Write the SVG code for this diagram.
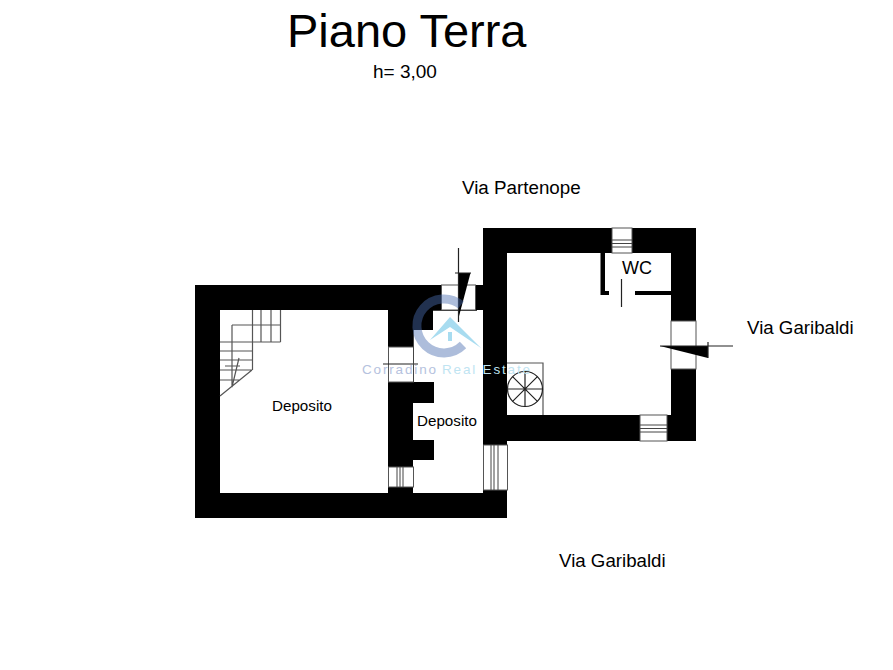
<svg xmlns="http://www.w3.org/2000/svg" width="893" height="670" viewBox="0 0 893 670">
<style>
text{font-family:"Liberation Sans",Arial,sans-serif;fill:#000}
.w{fill:#000}
.o{fill:#fff;stroke:#555;stroke-width:1}
.l{fill:none;stroke:#444;stroke-width:1}
.t{fill:none;stroke:#555;stroke-width:1.2}
.f{fill:none;stroke:#222;stroke-width:1.2}
</style>
<rect width="893" height="670" fill="#fff"/>
<g id="walls">
<path class="w" d="M195 285H442V310H220V493H388V487H413V493H483V490H507V518H195Z"/>
<path class="w" d="M475 285H483V228H696V441H507V445H483V310H475ZM507 253V415H671V253Z"/>
<path class="w" d="M388 310H433V330H413V347H388ZM388 382H434V403H413V440H434V460H413V467H388Z"/>
<path class="w" d="M600.500 253H605V291H609V295H600.500ZM635 291H671V295H635Z"/>
</g>
<g id="windows">
<rect class="o" x="441.500" y="285" width="34" height="25"/>
<path class="l" d="M433 310.500H477"/>
<rect class="o" x="388.500" y="347" width="25" height="35"/>
<path class="f" d="M383 364H418"/>
<path class="l" d="M413.500 330V382"/>
<rect class="o" x="388.500" y="467" width="25" height="20"/>
<path class="l" d="M397 467V487M400 467V487M403 467V487"/>
<rect class="o" x="483.500" y="445" width="24" height="45"/>
<path class="l" d="M491 445V490M494 445V490M498 445V490"/>
<rect class="o" x="612" y="228" width="20" height="25"/>
<path class="l" stroke-width="1.500" d="M612 240H632M612 243.500H632M612 247H632"/>
<rect class="o" x="640" y="415" width="27" height="26"/>
<path class="l" d="M640 425H667M640 428.500H667M640 432H667"/>
<rect class="o" x="671" y="321" width="25" height="48"/>
</g>
<g id="stairs">
<path class="t" d="M252.500 310V370M261 310V342M271 310V342M280.500 310V342M220 342H280.500M232 325H280.500M232 325V387M220 351H252M220 360H252M220 370H252M220 380H240M252 370L220 396M239 358L232 387M225 366H240"/>
<path class="t" d="M507 363H543V415"/>
<circle class="f" cx="525" cy="389" r="17.500"/>
<path class="f" d="M525 371.500V406.500M507.500 389H542.500M512.600 376.600L537.400 401.400M537.400 376.600L512.600 401.400"/>
</g>
<g id="door-marks">
<path class="f" d="M621.500 279V307"/>
<path class="w" d="M458 273H470.500L458 320Z"/>
<path class="f" d="M458.500 248V322M455 273H471"/>
<path class="w" d="M660 346H708V358Z"/>
<path class="f" d="M660 346H733M708 342V358"/>
</g>
<g id="watermark">
<path fill="none" stroke="#4a6cb0" stroke-opacity="0.45" stroke-width="9" d="M461 305A27 27 0 1 0 463 345"/>
<path fill="#a8dcf0" d="M430 340L450 317L481 348L450 327Z"/>
<rect x="448" y="332" width="4" height="9" fill="#a8dcf0"/>
<text x="362" y="374" font-size="13.500" textLength="74" style="fill:#b5c2de">Corradino</text>
<text x="442" y="374" font-size="13.500" textLength="88" style="fill:#bfe4f2">Real Estate</text>
</g>
<g id="labels">
<text x="287" y="47" font-size="47">Piano Terra</text>
<text x="373" y="78" font-size="19">h= 3,00</text>
<text x="462" y="194" font-size="18.800">Via Partenope</text>
<text x="747" y="334" font-size="18.700">Via Garibaldi</text>
<text x="559" y="567" font-size="18.700">Via Garibaldi</text>
<text x="272" y="411" font-size="15.200">Deposito</text>
<text x="417" y="426" font-size="15.200">Deposito</text>
<text x="622" y="274" font-size="18">WC</text>
</g>
</svg>
